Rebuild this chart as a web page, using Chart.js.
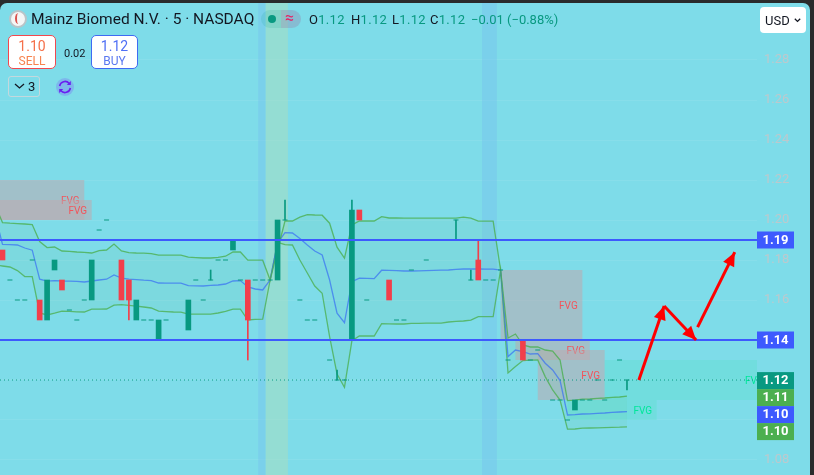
<!DOCTYPE html>
<html>
<head>
<meta charset="utf-8">
<script src="https://cdn.jsdelivr.net/npm/chart.js@4"></script>
<style>
  html, body { margin: 0; width: 814px; height: 475px; overflow: hidden; background: #2a2b2c; }
  #pane { position: absolute; left: 0; top: 3px; width: 810px; height: 472px; background: #7edce9; border-top-left-radius: 7px; border-top-right-radius: 7px; overflow: hidden; }
  canvas { position: absolute; left: 0; top: 0; }
  .t { position: absolute; font-family: Roboto, sans-serif; white-space: nowrap; color: #131722; line-height: 1; }
  .n { color: #089981; }
  .box { position: absolute; box-sizing: border-box; background: #fff; border-radius: 5px; border: 1px solid; }
</style>
</head>
<body>
<div id="pane">
  <canvas id="chart" width="810" height="472"></canvas>

  <div style="position:absolute;left:9px;top:7px;width:18px;height:18px;box-sizing:border-box;border-radius:50%;background:#f4f6f6;border:2px solid #b9c4c8"></div>
  <div style="position:absolute;left:15px;top:10px;width:5px;height:11px;border-left:2px solid #d9534f;border-radius:50%"></div>
  <div class="t" style="left:31px;top:9px;font-size:15.5px">Mainz Biomed N.V. · 5 · NASDAQ</div>

  <div style="position:absolute;left:261px;top:7px;width:20px;height:18px;background:rgba(8,153,129,.13);border-radius:9px 0 0 9px"></div>
  <div style="position:absolute;left:281px;top:7px;width:20px;height:18px;background:rgba(150,130,170,.35);border-radius:0 9px 9px 0"></div>
  <div style="position:absolute;left:268px;top:12px;width:8px;height:8px;border-radius:50%;background:#089981"></div>
  <div class="t" style="left:285px;top:7px;font-size:16px;color:#e91e63">≈</div>

  <div class="t" style="left:309px;top:10px;font-size:13px;letter-spacing:.3px">O<span class="n">1.12</span></div>
  <div class="t" style="left:351px;top:10px;font-size:13px;letter-spacing:.3px">H<span class="n">1.12</span></div>
  <div class="t" style="left:392px;top:10px;font-size:13px;letter-spacing:.3px">L<span class="n">1.12</span></div>
  <div class="t" style="left:430px;top:10px;font-size:13px;letter-spacing:.3px">C<span class="n">1.12</span></div>
  <div class="t n" style="left:471px;top:10px;font-size:13px">−0.01</div>
  <div class="t n" style="left:507px;top:10px;font-size:13px">(−0.88%)</div>

  <div class="box" style="left:8px;top:32px;width:48px;height:34px;border-color:#f2484f"></div>
  <div class="t" style="left:8px;width:48px;text-align:center;top:36px;font-size:14px;color:#f5704a">1.10</div>
  <div class="t" style="left:8px;width:48px;text-align:center;top:52px;font-size:12px;color:#f7834f">SELL</div>
  <div class="t" style="left:64px;top:45px;font-size:11px">0.02</div>
  <div class="box" style="left:91px;top:32px;width:47px;height:34px;border-color:#3f6bf2"></div>
  <div class="t" style="left:91px;width:47px;text-align:center;top:36px;font-size:14px;color:#4f6ff5">1.12</div>
  <div class="t" style="left:91px;width:47px;text-align:center;top:52px;font-size:12px;color:#5a78f0">BUY</div>

  <div style="position:absolute;left:8px;top:73px;width:32px;height:21px;box-sizing:border-box;border:1px solid #c3d8dd;border-radius:3px"></div>
  <svg style="position:absolute;left:14px;top:80px" width="11" height="7"><path d="M1 1l4.5 4L10 1" fill="none" stroke="#131722" stroke-width="1.3"/></svg>
  <div class="t" style="left:28px;top:77px;font-size:13px">3</div>

  <svg style="position:absolute;left:56px;top:75px" width="18" height="18" viewBox="0 0 18 18">
    <circle cx="9" cy="9" r="9" fill="#7d9fee" opacity=".6"/>
    <path d="M3.6 8a5.5 5.5 0 0 1 9.6-2.6M14.4 10a5.5 5.5 0 0 1-9.6 2.6" fill="none" stroke="#6a1ff0" stroke-width="1.6"/>
    <path d="M14.8 3v4h-4zM3.2 15v-4h4z" fill="#6a1ff0"/>
  </svg>

  <div style="position:absolute;left:760px;top:4px;width:46px;height:26px;box-sizing:border-box;background:#fff;border-radius:4px"></div>
  <div class="t" style="left:765px;top:11px;font-size:13px">USD</div>
  <svg style="position:absolute;left:794px;top:15px" width="7" height="5"><path d="M.8.8l2.7 2.6L6.2.8" fill="none" stroke="#131722" stroke-width="1.3"/></svg>
</div>

<script>
// Bar numbers run left to right, bar 0 is cut by the left edge, bar -1 is just off it
const firstBar = -1;
const upperBand = [1.2075, 1.1987, 1.1984, 1.1982, 1.1980, 1.1977, 1.1892, 1.1862, 1.1865, 1.1845, 1.1843, 1.1840, 1.1838, 1.1835, 1.1847, 1.1850, 1.1880, 1.1845, 1.1837, 1.1835, 1.1834, 1.1832, 1.1824, 1.1824, 1.1824, 1.1824, 1.1814, 1.1812, 1.1810, 1.1810, 1.1813, 1.1819, 1.1840, 1.1840, 1.1799, 1.1799, 1.1799, 1.1700, 1.1850, 1.1995, 1.1995, 1.2014, 1.2027, 1.2025, 1.2024, 1.1984, 1.1864, 1.1809, 1.1975, 1.1995, 1.1995, 1.1995, 1.2017, 1.2010, 1.2010, 1.2009, 1.2009, 1.2009, 1.2009, 1.2009, 1.2009, 1.2009, 1.2009, 1.2014, 1.2009, 1.1994, 1.1994, 1.1994, 1.1750, 1.1410, 1.1430, 1.1375, 1.1365, 1.1365, 1.1350, 1.1345, 1.1300, 1.1097, 1.1099, 1.1104, 1.1105, 1.1108, 1.1110, 1.1113, 1.1115, 1.1119];
const middleBand = [1.2025, 1.1878, 1.1877, 1.1875, 1.1860, 1.1849, 1.1704, 1.1694, 1.1697, 1.1695, 1.1694, 1.1693, 1.1690, 1.1695, 1.1700, 1.1704, 1.1725, 1.1709, 1.1704, 1.1702, 1.1699, 1.1697, 1.1685, 1.1684, 1.1684, 1.1684, 1.1672, 1.1671, 1.1670, 1.1673, 1.1675, 1.1680, 1.1695, 1.1697, 1.1665, 1.1655, 1.1650, 1.1700, 1.1885, 1.1937, 1.1935, 1.1907, 1.1875, 1.1845, 1.1825, 1.1700, 1.1534, 1.1487, 1.1692, 1.1709, 1.1708, 1.1707, 1.1749, 1.1748, 1.1747, 1.1745, 1.1745, 1.1746, 1.1747, 1.1748, 1.1749, 1.1750, 1.1753, 1.1755, 1.1755, 1.1755, 1.1754, 1.1754, 1.1750, 1.1317, 1.1350, 1.1342, 1.1330, 1.1332, 1.1284, 1.1250, 1.1197, 1.1025, 1.1027, 1.1030, 1.1031, 1.1033, 1.1035, 1.1038, 1.1040, 1.1042];
const lowerBand = [1.1775, 1.1770, 1.1765, 1.1747, 1.1717, 1.1717, 1.1535, 1.1525, 1.1534, 1.1544, 1.1543, 1.1541, 1.1540, 1.1554, 1.1554, 1.1555, 1.1574, 1.1577, 1.1573, 1.1569, 1.1565, 1.1560, 1.1544, 1.1542, 1.1540, 1.1539, 1.1529, 1.1529, 1.1529, 1.1529, 1.1535, 1.1543, 1.1554, 1.1554, 1.1500, 1.1503, 1.1504, 1.1700, 1.1888, 1.1877, 1.1875, 1.1800, 1.1735, 1.1670, 1.1634, 1.1417, 1.1230, 1.1164, 1.1397, 1.1420, 1.1420, 1.1420, 1.1482, 1.1481, 1.1480, 1.1480, 1.1483, 1.1483, 1.1484, 1.1484, 1.1484, 1.1490, 1.1493, 1.1495, 1.1499, 1.1517, 1.1517, 1.1517, 1.1750, 1.1235, 1.1267, 1.1297, 1.1299, 1.1300, 1.1217, 1.1150, 1.1100, 1.0954, 1.0955, 1.0959, 1.0960, 1.0961, 1.0962, 1.0963, 1.0964, 1.0966];

// [bar, low, high]
const greenBodies = [[6, 1.15, 1.17], [7, 1.175, 1.18], [12, 1.16, 1.18], [18, 1.15, 1.16], [21, 1.14, 1.15], [25, 1.145, 1.16], [31, 1.185, 1.19], [37, 1.17, 1.20], [47, 1.14, 1.205], [77, 1.105, 1.11]];
const redBodies = [[0, 1.18, 1.185], [5, 1.15, 1.16], [8, 1.165, 1.17], [16, 1.16, 1.18], [17, 1.16, 1.17], [33, 1.15, 1.17], [48, 1.20, 1.205], [52, 1.16, 1.17], [64, 1.17, 1.18], [70, 1.13, 1.14]];
const greenWicks = [[28, 1.17, 1.175], [38, 1.20, 1.21], [45, 1.12, 1.125], [47, 1.205, 1.21], [61, 1.19, 1.20], [63, 1.17, 1.175], [84, 1.115, 1.12]];
const redWicks = [[17, 1.15, 1.16], [33, 1.13, 1.15], [64, 1.18, 1.19]];
// bars that opened and closed on the same price: [bar, price]
const flatBars = [[1, 1.17], [2, 1.16], [3, 1.16], [4, 1.18], [9, 1.155], [10, 1.15], [11, 1.16], [13, 1.195], [14, 1.20], [15, 1.19], [19, 1.15], [20, 1.15], [22, 1.15], [23, 1.14], [24, 1.14], [26, 1.17], [27, 1.16], [28, 1.17], [29, 1.18], [30, 1.18], [32, 1.17], [34, 1.17], [35, 1.17], [36, 1.17], [38, 1.20], [39, 1.19], [40, 1.16], [41, 1.15], [42, 1.15], [43, 1.14], [44, 1.13], [45, 1.12], [46, 1.12], [49, 1.16], [50, 1.19], [51, 1.19], [53, 1.15], [54, 1.15], [55, 1.175], [56, 1.19], [57, 1.18], [58, 1.19], [59, 1.19], [60, 1.19], [61, 1.20], [62, 1.19], [63, 1.17], [65, 1.17], [66, 1.17], [67, 1.175], [68, 1.13], [71, 1.13], [72, 1.135], [74, 1.11], [75, 1.11], [76, 1.10], [78, 1.11], [79, 1.11], [80, 1.12], [81, 1.11], [82, 1.12], [83, 1.13], [84, 1.12]];

// [first bar, last bar, low, high]
const bearishGaps = [[-1, 11, 1.20, 1.22], [-1, 12, 1.20, 1.21], [67, 78, 1.14, 1.175], [69, 79, 1.13, 1.14], [72, 81, 1.11, 1.135]];
const bullishGaps = [[81, 103, 1.11, 1.13], [76, 88, 1.10, 1.11]];
const blueSessions = [[34.4, 35.4], [64.5, 66.5]];
const greenSessions = [[35.4, 38.4]];

const levels = [1.19, 1.14];
const lastPrice = 1.12;
// [[bar, price], [bar, price]], head at the second point
const arrows = [[[85.6, 1.12], [89, 1.157]], [[89, 1.157], [93.3, 1.14]], [[93.5, 1.1464], [98.5, 1.1839]]];

const yTicks = [1.08, 1.10, 1.12, 1.14, 1.16, 1.18, 1.20, 1.22, 1.24, 1.26, 1.28];
// [price, label, kind]
const priceTags = [[1.19, '1.19', 'blue'], [1.14, '1.14', 'blue'], [1.1197, '1.12', 'teal'], [1.1112, '1.11', 'green'], [1.1027, '1.10', 'blue'], [1.0942, '1.10', 'green']];

const barMin = -0.336, barMax = 101.49;
const TEAL = '#089981', RED = '#f23f4b', LINE_BLUE = '#3d5afe';
const tagColors = { blue: LINE_BLUE, teal: TEAL, green: '#4caf50' };

const toPoints = arr => arr.map((y, k) => ({ x: k + firstBar, y: y }));
const toBars = arr => arr.map(b => ({ x: b[0], y: [b[1], b[2]] }));

// session stripes and gap boxes go under the candles
const backdrop = {
    id: 'backdrop',
    beforeDatasetsDraw(chart) {
        const { ctx, chartArea: a, scales: { x, y } } = chart;
        ctx.save();
        ctx.beginPath();
        ctx.rect(a.left, a.top, a.width, a.height);
        ctx.clip();

        const stripe = (list, color) => {
            ctx.fillStyle = color;
            list.forEach(s => ctx.fillRect(x.getPixelForValue(s[0]), a.top, x.getPixelForValue(s[1]) - x.getPixelForValue(s[0]), a.height));
        };
        stripe(blueSessions, 'rgba(118,190,238,0.4)');
        stripe(greenSessions, 'rgba(176,222,185,0.45)');

        const gap = (list, fill, text) => {
            list.forEach(g => {
                const l = x.getPixelForValue(g[0]), r = x.getPixelForValue(g[1]);
                const top = y.getPixelForValue(g[3]), bot = y.getPixelForValue(g[2]);
                ctx.fillStyle = fill;
                ctx.fillRect(l, top, r - l, bot - top);
                ctx.fillStyle = text;
                ctx.font = '10px Roboto, sans-serif';
                ctx.textAlign = 'center';
                ctx.textBaseline = 'middle';
                ctx.fillText('FVG', r - 14, (top + bot) / 2 + 1);
            });
        };
        gap(bearishGaps, 'rgba(190,170,175,0.55)', '#f2545b');
        gap(bullishGaps, 'rgba(80,225,195,0.28)', '#00e69a');
        ctx.restore();
    }
};

// arrow heads and the price boxes on the axis
const overlay = {
    id: 'overlay',
    afterDatasetsDraw(chart) {
        const { ctx, chartArea: a, scales: { x, y } } = chart;
        ctx.save();
        ctx.fillStyle = '#ff0000';
        arrows.forEach(arrow => {
            const x0 = x.getPixelForValue(arrow[0][0]), y0 = y.getPixelForValue(arrow[0][1]);
            const x1 = x.getPixelForValue(arrow[1][0]), y1 = y.getPixelForValue(arrow[1][1]);
            const ang = Math.atan2(y1 - y0, x1 - x0);
            ctx.beginPath();
            ctx.moveTo(x1, y1);
            ctx.lineTo(x1 - 15 * Math.cos(ang - 0.42), y1 - 15 * Math.sin(ang - 0.42));
            ctx.lineTo(x1 - 15 * Math.cos(ang + 0.42), y1 - 15 * Math.sin(ang + 0.42));
            ctx.closePath();
            ctx.fill();
        });
        priceTags.forEach(tag => {
            const py = y.getPixelForValue(tag[0]);
            ctx.fillStyle = tagColors[tag[2]];
            ctx.fillRect(a.right, py - 8.5, 37, 17);
            ctx.fillStyle = '#fff';
            ctx.font = 'bold 13px Roboto, sans-serif';
            ctx.textAlign = 'center';
            ctx.textBaseline = 'middle';
            ctx.fillText(tag[1], a.right + 18.5, py + 0.5);
        });
        ctx.restore();
    }
};

const barSet = (list, color, thickness, order) => ({
    type: 'bar',
    data: toBars(list),
    backgroundColor: color,
    barThickness: thickness,
    grouped: false,
    order: order
});
const bandSet = (arr, color, extra) => Object.assign({
    type: 'line',
    data: toPoints(arr),
    borderColor: color,
    borderWidth: 1.3,
    pointRadius: 0,
    tension: 0,
    order: 6
}, extra);

new Chart(document.getElementById('chart'), {
    data: {
        datasets: [
            bandSet(upperBand, 'rgba(76,175,80,0.8)', { fill: { target: 2 }, backgroundColor: 'rgba(110,200,140,0.1)' }),
            bandSet(middleBand, 'rgba(50,100,255,0.7)'),
            bandSet(lowerBand, 'rgba(76,175,80,0.8)'),
            barSet(greenWicks, TEAL, 1, 5),
            barSet(redWicks, RED, 1, 5),
            barSet(greenBodies, TEAL, 5, 4),
            barSet(redBodies, RED, 5, 4),
            {
                type: 'scatter',
                data: flatBars.map(b => ({ x: b[0], y: b[1] })),
                pointStyle: 'line',
                pointRadius: 2.5,
                pointBorderWidth: 1,
                borderColor: TEAL,
                order: 4
            },
            {
                type: 'line',
                data: [{ x: barMin, y: lastPrice }, { x: barMax, y: lastPrice }],
                borderColor: TEAL,
                borderWidth: 1,
                borderDash: [1, 3],
                pointRadius: 0,
                order: 3
            },
            ...levels.map(v => ({
                type: 'line',
                data: [{ x: barMin, y: v }, { x: barMax, y: v }],
                borderColor: LINE_BLUE,
                borderWidth: 2,
                pointRadius: 0,
                order: 2
            })),
            ...arrows.map(arrow => ({
                type: 'line',
                data: arrow.map(p => ({ x: p[0], y: p[1] })),
                borderColor: '#ff0000',
                borderWidth: 3,
                pointRadius: 0,
                order: 1
            }))
        ]
    },
    options: {
        responsive: false,
        animation: false,
        events: [],
        layout: { padding: 0, autoPadding: false },
        plugins: { legend: { display: false }, tooltip: { enabled: false } },
        scales: {
            x: { type: 'linear', display: false, min: barMin, max: barMax, offset: false },
            y: {
                position: 'right',
                min: 1.0725,
                max: 1.3085,
                afterBuildTicks: scale => { scale.ticks = yTicks.map(v => ({ value: v })); },
                afterFit: scale => {
                    scale.width = 53;
                    // tick padding and label height would otherwise inset the plot top and bottom
                    scale.paddingTop = 0;
                    scale.paddingBottom = 0;
                },
                grid: { color: 'rgba(255,255,255,0.07)', drawTicks: false, drawOnChartArea: true },
                border: { display: false },
                ticks: {
                    padding: 7,
                    color: '#bcc9cd',
                    font: { family: 'Roboto, sans-serif', size: 13 },
                    autoSkip: false,
                    callback: v => v.toFixed(2)
                }
            }
        }
    },
    plugins: [backdrop, overlay]
});
</script>
</body>
</html>
